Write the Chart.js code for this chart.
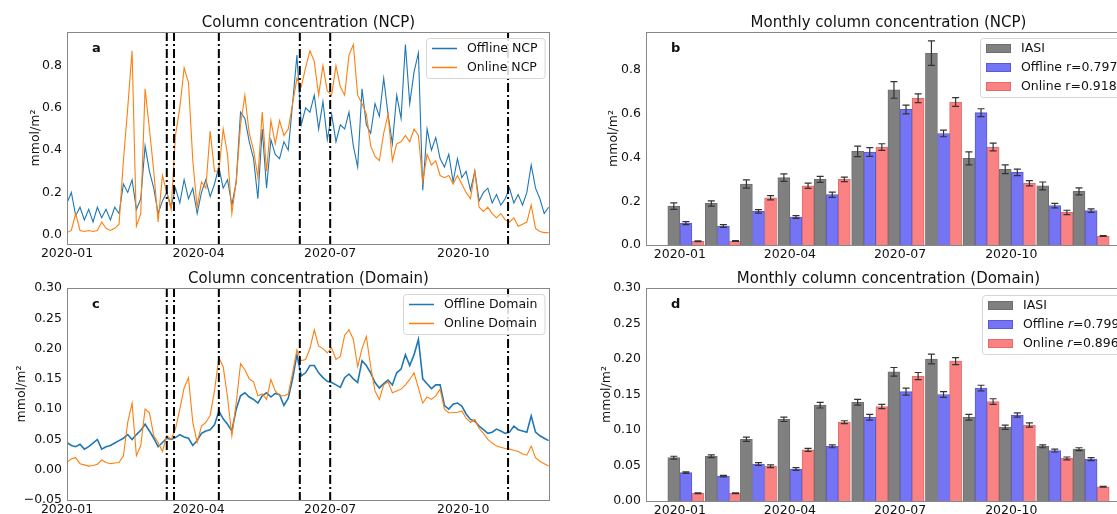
<!DOCTYPE html>
<html>
<head>
<meta charset="utf-8">
<script src="https://cdn.jsdelivr.net/npm/chart.js@4.4.1/dist/chart.umd.min.js"></script>
<style>
  html, body { margin: 0; padding: 0; background: #fff; overflow: hidden; width: 1117px; height: 514px; position: relative; }
  canvas { position: absolute; }
</style>
</head>
<body>
<canvas id="chartA" width="560" height="270" style="left:0;top:0"></canvas>
<canvas id="chartB" width="540" height="270" style="left:600px;top:0"></canvas>
<canvas id="chartC" width="560" height="270" style="left:0;top:256px"></canvas>
<canvas id="chartD" width="540" height="270" style="left:600px;top:256px"></canvas>
<script>
// ---- daily series, sampled every 3 days from 2020-01-01 ----
const sampleStep = 3;
const offlineNCP = [0.15,0.2,0.09,0.13,0.07,0.12,0.06,0.13,0.08,0.12,
  0.07,0.13,0.1,0.24,0.2,0.26,0.12,0.17,0.42,0.3,
  0.22,0.1,0.16,0.2,0.13,0.22,0.15,0.26,0.17,0.22,
  0.1,0.2,0.26,0.18,0.24,0.32,0.22,0.26,0.14,0.25,
  0.58,0.55,0.44,0.36,0.17,0.5,0.22,0.45,0.38,0.36,
  0.44,0.4,0.62,0.85,0.52,0.6,0.58,0.66,0.5,0.63,
  0.45,0.57,0.44,0.52,0.5,0.58,0.42,0.32,0.69,0.52,
  0.48,0.62,0.56,0.74,0.57,0.43,0.66,0.55,0.9,0.62,
  0.77,0.86,0.21,0.5,0.4,0.46,0.36,0.32,0.38,0.25,
  0.36,0.27,0.3,0.21,0.3,0.16,0.2,0.22,0.15,0.19,
  0.14,0.17,0.22,0.15,0.19,0.14,0.2,0.33,0.22,0.17,
  0.1,0.13];
const onlineNCP = [0.01,0.02,0.1,0.02,0.015,0.02,0.015,0.02,0.06,0.03,
  0.02,0.03,0.05,0.35,0.6,0.87,0.04,0.1,0.69,0.5,
  0.3,0.06,0.28,0.2,0.12,0.47,0.6,0.79,0.72,0.35,
  0.13,0.25,0.22,0.49,0.3,0.3,0.5,0.38,0.1,0.25,
  0.52,0.66,0.48,0.4,0.27,0.58,0.3,0.54,0.43,0.54,
  0.47,0.5,0.62,0.74,0.7,0.79,0.87,0.82,0.66,0.8,
  0.68,0.66,0.8,0.7,0.66,0.85,0.9,0.66,0.62,0.57,
  0.42,0.37,0.35,0.48,0.57,0.35,0.43,0.44,0.47,0.44,
  0.5,0.47,0.25,0.38,0.33,0.35,0.28,0.27,0.28,0.24,
  0.28,0.24,0.2,0.17,0.3,0.13,0.11,0.13,0.1,0.08,
  0.1,0.07,0.06,0.08,0.04,0.05,0.06,0.14,0.03,0.015,
  0.01,0.01];
const offlineDomain = [0.045,0.04,0.038,0.042,0.034,0.038,0.044,0.05,0.034,0.038,
  0.04,0.044,0.048,0.052,0.058,0.05,0.058,0.065,0.075,0.064,
  0.052,0.038,0.045,0.052,0.05,0.053,0.058,0.054,0.052,0.04,
  0.048,0.06,0.064,0.066,0.074,0.097,0.084,0.075,0.064,0.1,
  0.122,0.127,0.12,0.116,0.11,0.122,0.127,0.12,0.126,0.124,
  0.106,0.118,0.15,0.19,0.155,0.16,0.172,0.172,0.16,0.152,
  0.146,0.144,0.14,0.136,0.152,0.158,0.15,0.144,0.18,0.172,
  0.16,0.144,0.135,0.142,0.148,0.14,0.16,0.166,0.19,0.172,
  0.19,0.215,0.15,0.142,0.134,0.14,0.14,0.106,0.1,0.108,
  0.11,0.105,0.092,0.083,0.08,0.072,0.066,0.06,0.062,0.067,
  0.064,0.06,0.062,0.072,0.066,0.064,0.062,0.089,0.062,0.056,
  0.052,0.048];
const onlineDomain = [0.012,0.018,0.02,0.01,0.008,0.006,0.007,0.009,0.016,0.012,
  0.01,0.011,0.012,0.023,0.078,0.11,0.023,0.04,0.1,0.094,
  0.056,0.045,0.03,0.056,0.05,0.067,0.1,0.135,0.152,0.078,
  0.045,0.072,0.078,0.09,0.13,0.185,0.17,0.12,0.056,0.11,
  0.175,0.165,0.15,0.145,0.122,0.125,0.116,0.149,0.13,0.122,
  0.122,0.125,0.16,0.198,0.18,0.182,0.2,0.231,0.204,0.2,
  0.193,0.201,0.182,0.187,0.222,0.231,0.215,0.17,0.2,0.22,
  0.17,0.13,0.116,0.14,0.145,0.127,0.13,0.133,0.14,0.149,
  0.16,0.135,0.11,0.12,0.116,0.122,0.133,0.1,0.094,0.094,
  0.095,0.097,0.085,0.078,0.083,0.068,0.06,0.05,0.044,0.039,
  0.037,0.035,0.034,0.032,0.03,0.026,0.024,0.039,0.02,0.014,
  0.01,0.006];

// event dates (dash-dot lines)
const eventDates = ["2020-03-10", "2020-03-15", "2020-04-15", "2020-06-10", "2020-07-01", "2020-11-01"];

// ---- monthly means and error bars ----
const months = ["2020-01-01","2020-02-01","2020-03-01","2020-04-01","2020-05-01","2020-06-01",
  "2020-07-01","2020-08-01","2020-09-01","2020-10-01","2020-11-01","2020-12-01"];
const iasiNCP     = [0.178,0.19,0.279,0.308,0.3,0.428,0.709,0.877,0.396,0.346,0.27,0.245];
const iasiNCPErr  = [0.015,0.012,0.019,0.017,0.014,0.024,0.038,0.056,0.03,0.02,0.018,0.016];
const offNCP      = [0.1,0.087,0.154,0.128,0.23,0.425,0.62,0.51,0.605,0.332,0.18,0.157];
const offNCPErr   = [0.007,0.006,0.008,0.006,0.012,0.02,0.02,0.015,0.018,0.015,0.01,0.008];
const onNCP       = [0.017,0.018,0.216,0.271,0.3,0.448,0.671,0.654,0.448,0.282,0.149,0.041];
const onNCPErr    = [0.002,0.002,0.01,0.012,0.01,0.015,0.02,0.02,0.018,0.012,0.01,0.002];
const iasiDom     = [0.061,0.063,0.087,0.115,0.135,0.139,0.182,0.2,0.118,0.104,0.077,0.073];
const iasiDomErr  = [0.002,0.002,0.003,0.003,0.004,0.004,0.006,0.007,0.004,0.003,0.002,0.002];
const offDom      = [0.04,0.035,0.052,0.045,0.077,0.118,0.154,0.15,0.159,0.121,0.071,0.059];
const offDomErr   = [0.001,0.001,0.002,0.002,0.002,0.004,0.005,0.004,0.004,0.003,0.002,0.002];
const onDom       = [0.011,0.011,0.049,0.072,0.111,0.133,0.176,0.197,0.14,0.107,0.06,0.02];
const onDomErr    = [0.0005,0.0005,0.002,0.002,0.002,0.003,0.005,0.005,0.004,0.003,0.002,0.0005];

// ---- tick labels ----
const timeTickDates = ["2020-01-01", "2020-04-01", "2020-07-01", "2020-10-01"];
const timeTickNames = ["2020-01", "2020-04", "2020-07", "2020-10"];
const ticksNCP = [0, 0.2, 0.4, 0.6, 0.8];
const ticksDom = [-0.05, 0, 0.05, 0.1, 0.15, 0.2, 0.25, 0.3];
const ticksDomBar = [0, 0.05, 0.1, 0.15, 0.2, 0.25, 0.3];

const FONT = "'DejaVu Sans', sans-serif";
Chart.defaults.font.family = FONT;
Chart.defaults.font.size = 12.5;
Chart.defaults.color = "#111";

const dayOf = (s) => (Date.parse(s) - Date.parse("2020-01-01")) / 864e5;
const toXY = (arr) => arr.map((v, i) => ({ x: i * sampleStep, y: v }));
const fmt = (v, d) => (v < 0 ? "\u2212" : "") + Math.abs(v).toFixed(d);
const timeTicks = timeTickDates.map(dayOf);

// titles, panel letters, frames, legends, event lines, error bars
const decor = {
  id: "decor",
  afterDatasetsDraw(chart, args, o) {
    const ctx = chart.ctx, a = chart.chartArea, xs = chart.scales.x, ys = chart.scales.y;
    ctx.save();
    (o.errors || []).forEach((errs, di) => {
      const meta = chart.getDatasetMeta(di);
      meta.data.forEach((bar, j) => {
        const v = chart.data.datasets[di].data[j].y;
        const t = ys.getPixelForValue(v + errs[j]), b = ys.getPixelForValue(v - errs[j]);
        ctx.strokeStyle = "#333";
        ctx.lineWidth = 1.2;
        ctx.beginPath();
        ctx.moveTo(bar.x, t); ctx.lineTo(bar.x, b);
        ctx.moveTo(bar.x - 3.5, t); ctx.lineTo(bar.x + 3.5, t);
        ctx.moveTo(bar.x - 3.5, b); ctx.lineTo(bar.x + 3.5, b);
        ctx.stroke();
      });
    });
    (o.events || []).forEach((d) => {
      const x = xs.getPixelForValue(d);
      ctx.strokeStyle = "#000";
      ctx.lineWidth = 2;
      ctx.setLineDash([9, 3, 2, 3]);
      ctx.beginPath();
      ctx.moveTo(x, a.top); ctx.lineTo(x, a.bottom);
      ctx.stroke();
    });
    ctx.restore();
  },
  afterDraw(chart, args, o) {
    if (!o.title) return;
    const ctx = chart.ctx, a = chart.chartArea;
    ctx.save();
    ctx.strokeStyle = "#888";
    ctx.lineWidth = 1;
    ctx.strokeRect(Math.round(a.left) + 0.5, Math.round(a.top) + 0.5, Math.round(a.width) - 1, Math.round(a.height));
    ctx.fillStyle = "#111";
    ctx.font = "15px " + FONT;
    ctx.textAlign = "center";
    ctx.textBaseline = "alphabetic";
    ctx.fillText(o.title, (a.left + a.right) / 2, a.top - 5);
    ctx.font = "bold 13px " + FONT;
    ctx.textAlign = "left";
    ctx.textBaseline = "middle";
    ctx.fillText(o.letter, a.left + 25, a.top + 17);
    ctx.font = "12.5px " + FONT;
    ctx.translate(o.ylabelX, (a.top + a.bottom) / 2);
    ctx.rotate(-Math.PI / 2);
    ctx.textAlign = "center";
    ctx.fillText("mmol/m\u00b2", 0, 0);
    ctx.restore();

    // legend box
    const items = chart.data.datasets.map((ds) => ({ text: ds.label, color: ds.borderColor, fill: ds.backgroundColor }));
    ctx.save();
    ctx.font = "12.5px " + FONT;
    const segs = items.map((it) => {
      const k = it.text.indexOf("r=");
      if (o.italicR && k >= 0) return [[it.text.slice(0, k), false], ["r", true], [it.text.slice(k + 1), false]];
      return [[it.text, false]];
    });
    const widthOf = (s) => s.reduce((w, [t, it]) => {
      ctx.font = (it ? "italic " : "") + "12.5px " + FONT;
      return w + ctx.measureText(t).width;
    }, 0);
    const tw = Math.max(...segs.map(widthOf));
    const x0 = a.left + o.legendDx, y0 = a.top + o.legendDy;
    const w = 6 + 25 + 10 + tw + 7, h = 21 + 19 * (items.length - 1);
    ctx.fillStyle = "rgba(255,255,255,0.85)";
    ctx.strokeStyle = "#d6d6d6";
    ctx.lineWidth = 1;
    ctx.beginPath();
    ctx.roundRect(x0 + 0.5, y0 + 0.5, w, h, 3);
    ctx.fill();
    ctx.stroke();
    items.forEach((it, i) => {
      const cy = y0 + 10.5 + 19 * i;
      if (o.legendType === "line") {
        ctx.strokeStyle = it.color;
        ctx.lineWidth = 1.5;
        ctx.beginPath();
        ctx.moveTo(x0 + 6, cy); ctx.lineTo(x0 + 31, cy);
        ctx.stroke();
      } else {
        ctx.fillStyle = it.fill;
        ctx.fillRect(x0 + 6, cy - 4.5, 25, 9);
        ctx.strokeStyle = it.color;
        ctx.strokeRect(x0 + 6.5, cy - 4, 24, 8);
      }
      let tx = x0 + 41;
      ctx.fillStyle = "#111";
      ctx.textAlign = "left";
      ctx.textBaseline = "middle";
      segs[i].forEach(([t, ital]) => {
        ctx.font = (ital ? "italic " : "") + "12.5px " + FONT;
        ctx.fillText(t, tx, cy + 0.5);
        tx += ctx.measureText(t).width;
      });
    });
    ctx.restore();
  },
};
Chart.register(decor);

function timeAxis(min, max, height) {
  return {
    type: "linear", min, max, offset: false,
    grid: { display: false, drawTicks: false }, border: { display: false },
    ticks: { autoSkip: false, maxRotation: 0, padding: 2, callback: (v) => timeTickNames[timeTicks.indexOf(v)] ?? "" },
    afterBuildTicks: (s) => { s.ticks = timeTicks.map((v) => ({ value: v })); },
    afterFit: (s) => { s.height = height; },
  };
}
function valueAxis(min, max, ticks, digits, width) {
  return {
    type: "linear", min, max,
    grid: { display: false, drawTicks: false }, border: { display: false },
    ticks: { padding: 5, callback: (v) => fmt(v, digits) },
    afterBuildTicks: (s) => { s.ticks = ticks.map((v) => ({ value: v })); },
    afterFit: (s) => { s.width = width; },
  };
}

function lineChart(id, names, offline, online, yAxis, decorOpts) {
  return new Chart(document.getElementById(id), {
    type: "line",
    data: {
      datasets: [
        { label: names[0], data: toXY(offline), borderColor: "#1f77b4", borderWidth: decorOpts.blueWidth, pointRadius: 0, order: 1 },
        { label: names[1], data: toXY(online), borderColor: "#ff7f0e", borderWidth: 1.1, pointRadius: 0, order: 0 },
      ],
    },
    options: {
      responsive: false, animation: false,
      layout: { padding: { top: 32, right: 10, left: 0, bottom: 0 } },
      scales: { x: timeAxis(0, 334, 26), y: yAxis },
      plugins: { legend: { display: false }, tooltip: { enabled: false }, decor: decorOpts },
    },
  });
}

function barChart(id, names, vals, errs, yAxis, decorOpts, xHeight) {
  const monthDays = months.map(dayOf);
  const colors = [["#808080", "#6e6e6e"], ["#7474f4", "#5a5ad2"], ["#fa8282", "#e06c6c"]];
  const shift = [-5, 5, 15];
  return new Chart(document.getElementById(id), {
    type: "bar",
    data: {
      datasets: vals.map((v, k) => ({
        label: names[k],
        data: v.map((y, i) => ({ x: monthDays[i] + shift[k], y })),
        backgroundColor: colors[k][0], borderColor: colors[k][1], borderWidth: 1,
        barThickness: 12, grouped: false,
      })),
    },
    options: {
      responsive: false, animation: false,
      layout: { padding: { top: 32, right: 9, left: 0, bottom: 0 } },
      scales: { x: timeAxis(-28, 373, xHeight), y: yAxis },
      plugins: { legend: { display: false }, tooltip: { enabled: false }, decor: { ...decorOpts, errors: errs } },
    },
  });
}

const events = eventDates.map(dayOf);

lineChart("chartA", ["Offline NCP", "Online NCP"], offlineNCP, onlineNCP,
  valueAxis(-0.044, 0.959, ticksNCP, 1, 67),
  { title: "Column concentration (NCP)", letter: "a", ylabelX: 36, legendDx: 359, legendDy: 6, legendType: "line", events, blueWidth: 1.1 });

lineChart("chartC", ["Offline Domain", "Online Domain"], offlineDomain, onlineDomain,
  valueAxis(-0.05, 0.3, ticksDom, 2, 67),
  { title: "Column concentration (Domain)", letter: "c", ylabelX: 22, legendDx: 336, legendDy: 6, legendType: "line", events, blueWidth: 1.6 });

barChart("chartB", ["IASI", "Offline r=0.797", "Online r=0.918"], [iasiNCP, offNCP, onNCP], [iasiNCPErr, offNCPErr, onNCPErr],
  valueAxis(0, 0.974, ticksNCP, 1, 46),
  { title: "Monthly column concentration (NCP)", letter: "b", ylabelX: 14, legendDx: 334, legendDy: 6, legendType: "box" }, 25);

barChart("chartD", ["IASI", "Offline r=0.799", "Online r=0.896"], [iasiDom, offDom, onDom], [iasiDomErr, offDomErr, onDomErr],
  valueAxis(0, 0.3, ticksDomBar, 2, 46),
  { title: "Monthly column concentration (Domain)", letter: "d", ylabelX: 7, legendDx: 336, legendDy: 7, legendType: "box", italicR: true }, 25);
</script>
</body>
</html>
